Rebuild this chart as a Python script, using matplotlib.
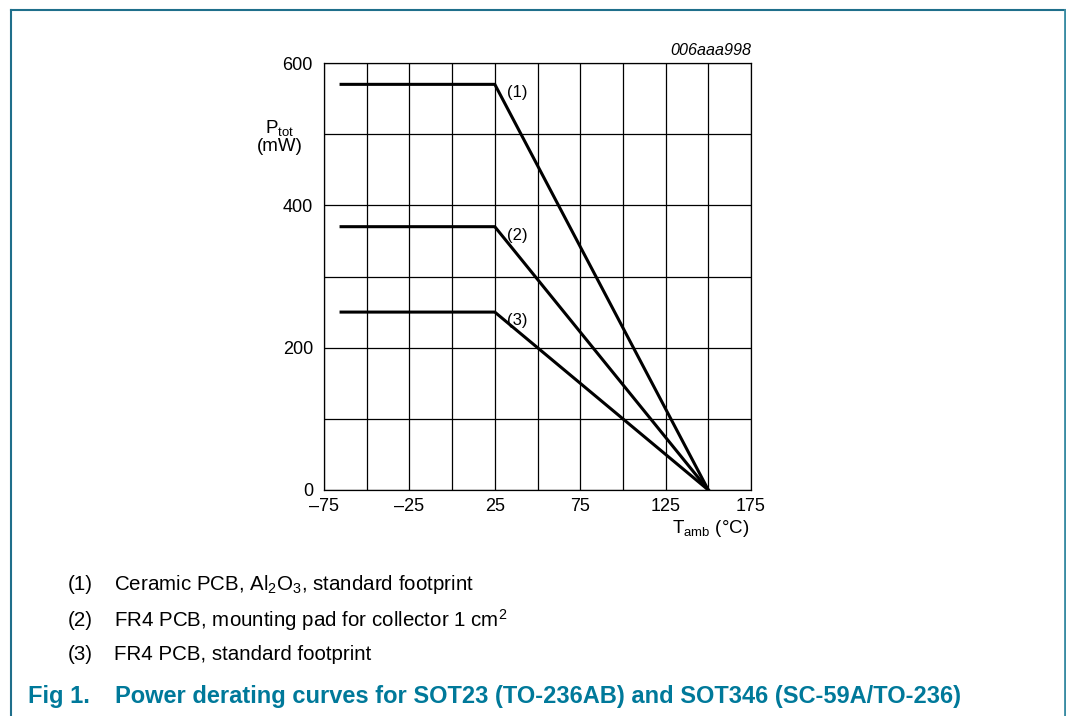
import matplotlib
matplotlib.use("Agg")
import matplotlib.pyplot as plt
from matplotlib.lines import Line2D

plt.rcParams['font.family'] = ['Liberation Sans', 'DejaVu Sans']
plt.rcParams['mathtext.fontset'] = 'custom'
plt.rcParams['mathtext.rm'] = 'Liberation Sans'
plt.rcParams['mathtext.it'] = 'Liberation Sans:italic'

# data
t_amb = [-65, 25, 150]
ptot_1 = [570, 570, 0]
ptot_2 = [370, 370, 0]
ptot_3 = [250, 250, 0]
curve_tags = ['(1)', '(2)', '(3)']
x_ticks = [-75, -25, 25, 75, 125, 175]
x_ticklabels = ['\u201375', '\u201325', '25', '75', '125', '175']
y_ticks = [0, 200, 400, 600]
notes = ['Ceramic PCB, $\\mathrm{Al_2O_3}$, standard footprint',
         'FR4 PCB, mounting pad for collector 1 $\\mathrm{cm^2}$',
         'FR4 PCB, standard footprint']
teal = '#00799a'

fig = plt.figure(figsize=(10.66, 7.16), dpi=100)
ax = fig.add_axes([324/1066, 1 - 490/716, 427/1066, 427/716])

for x in range(-75, 176, 25):
    ax.axvline(x, color='black', lw=0.9, zorder=1)
for y in range(0, 601, 100):
    ax.axhline(y, color='black', lw=0.9, zorder=1)

for ys, tag in zip([ptot_1, ptot_2, ptot_3], curve_tags):
    ax.plot(t_amb, ys, color='black', lw=2.2, zorder=3, solid_joinstyle='miter')
    ax.annotate(tag, (t_amb[1], ys[1]), xytext=(9, -6), textcoords='offset points',
                fontsize=12, va='center', ha='left')

ax.set_xlim(-75, 175)
ax.set_ylim(0, 600)
ax.set_xticks(x_ticks)
ax.set_xticklabels(x_ticklabels)
ax.set_yticks(y_ticks)
ax.tick_params(length=0, labelsize=13)
ax.tick_params(axis='x', pad=6)
ax.tick_params(axis='y', pad=8)
for s in ax.spines.values():
    s.set_linewidth(0.9)

ax.text(-0.104, 0.827, '$\\mathrm{P_{tot}}$\n(mW)', transform=ax.transAxes,
        ha='center', va='center', fontsize=13.5, linespacing=1.0)
ax.text(0.995, -0.089, '$\\mathrm{T_{amb}}$ (\u00b0C)', transform=ax.transAxes,
        ha='right', va='center', fontsize=13.5)
ax.text(1.0, 1.012, '006aaa998', transform=ax.transAxes, ha='right', va='bottom',
        fontsize=11.6, style='italic')

# notes under the chart
for i, (tag, note) in enumerate(zip(curve_tags, notes)):
    yy = 1 - (585 + i * 35) / 716
    fig.text(68/1066, yy, tag, fontsize=14.8, va='center')
    fig.text(114/1066, yy, note, fontsize=14.8, va='center')

fig.text(28/1066, 1 - 696/716, 'Fig 1.', fontsize=17, fontweight='bold',
         color=teal, va='center')
fig.text(115/1066, 1 - 696/716,
         'Power derating curves for SOT23 (TO-236AB) and SOT346 (SC-59A/TO-236)',
         fontsize=17, fontweight='bold', color=teal, va='center')

# frame
bc = '#1f6f8b'
fig.add_artist(Line2D([11/1066, 11/1066], [0, 1 - 10/716], color=bc, lw=1.5))
fig.add_artist(Line2D([11/1066, 1065/1066], [1 - 10/716, 1 - 10/716], color=bc, lw=1.5))
fig.add_artist(Line2D([1065/1066, 1065/1066], [0, 1 - 10/716], color='#3a8ca3', lw=2))

fig.savefig('out.png', dpi=100)
